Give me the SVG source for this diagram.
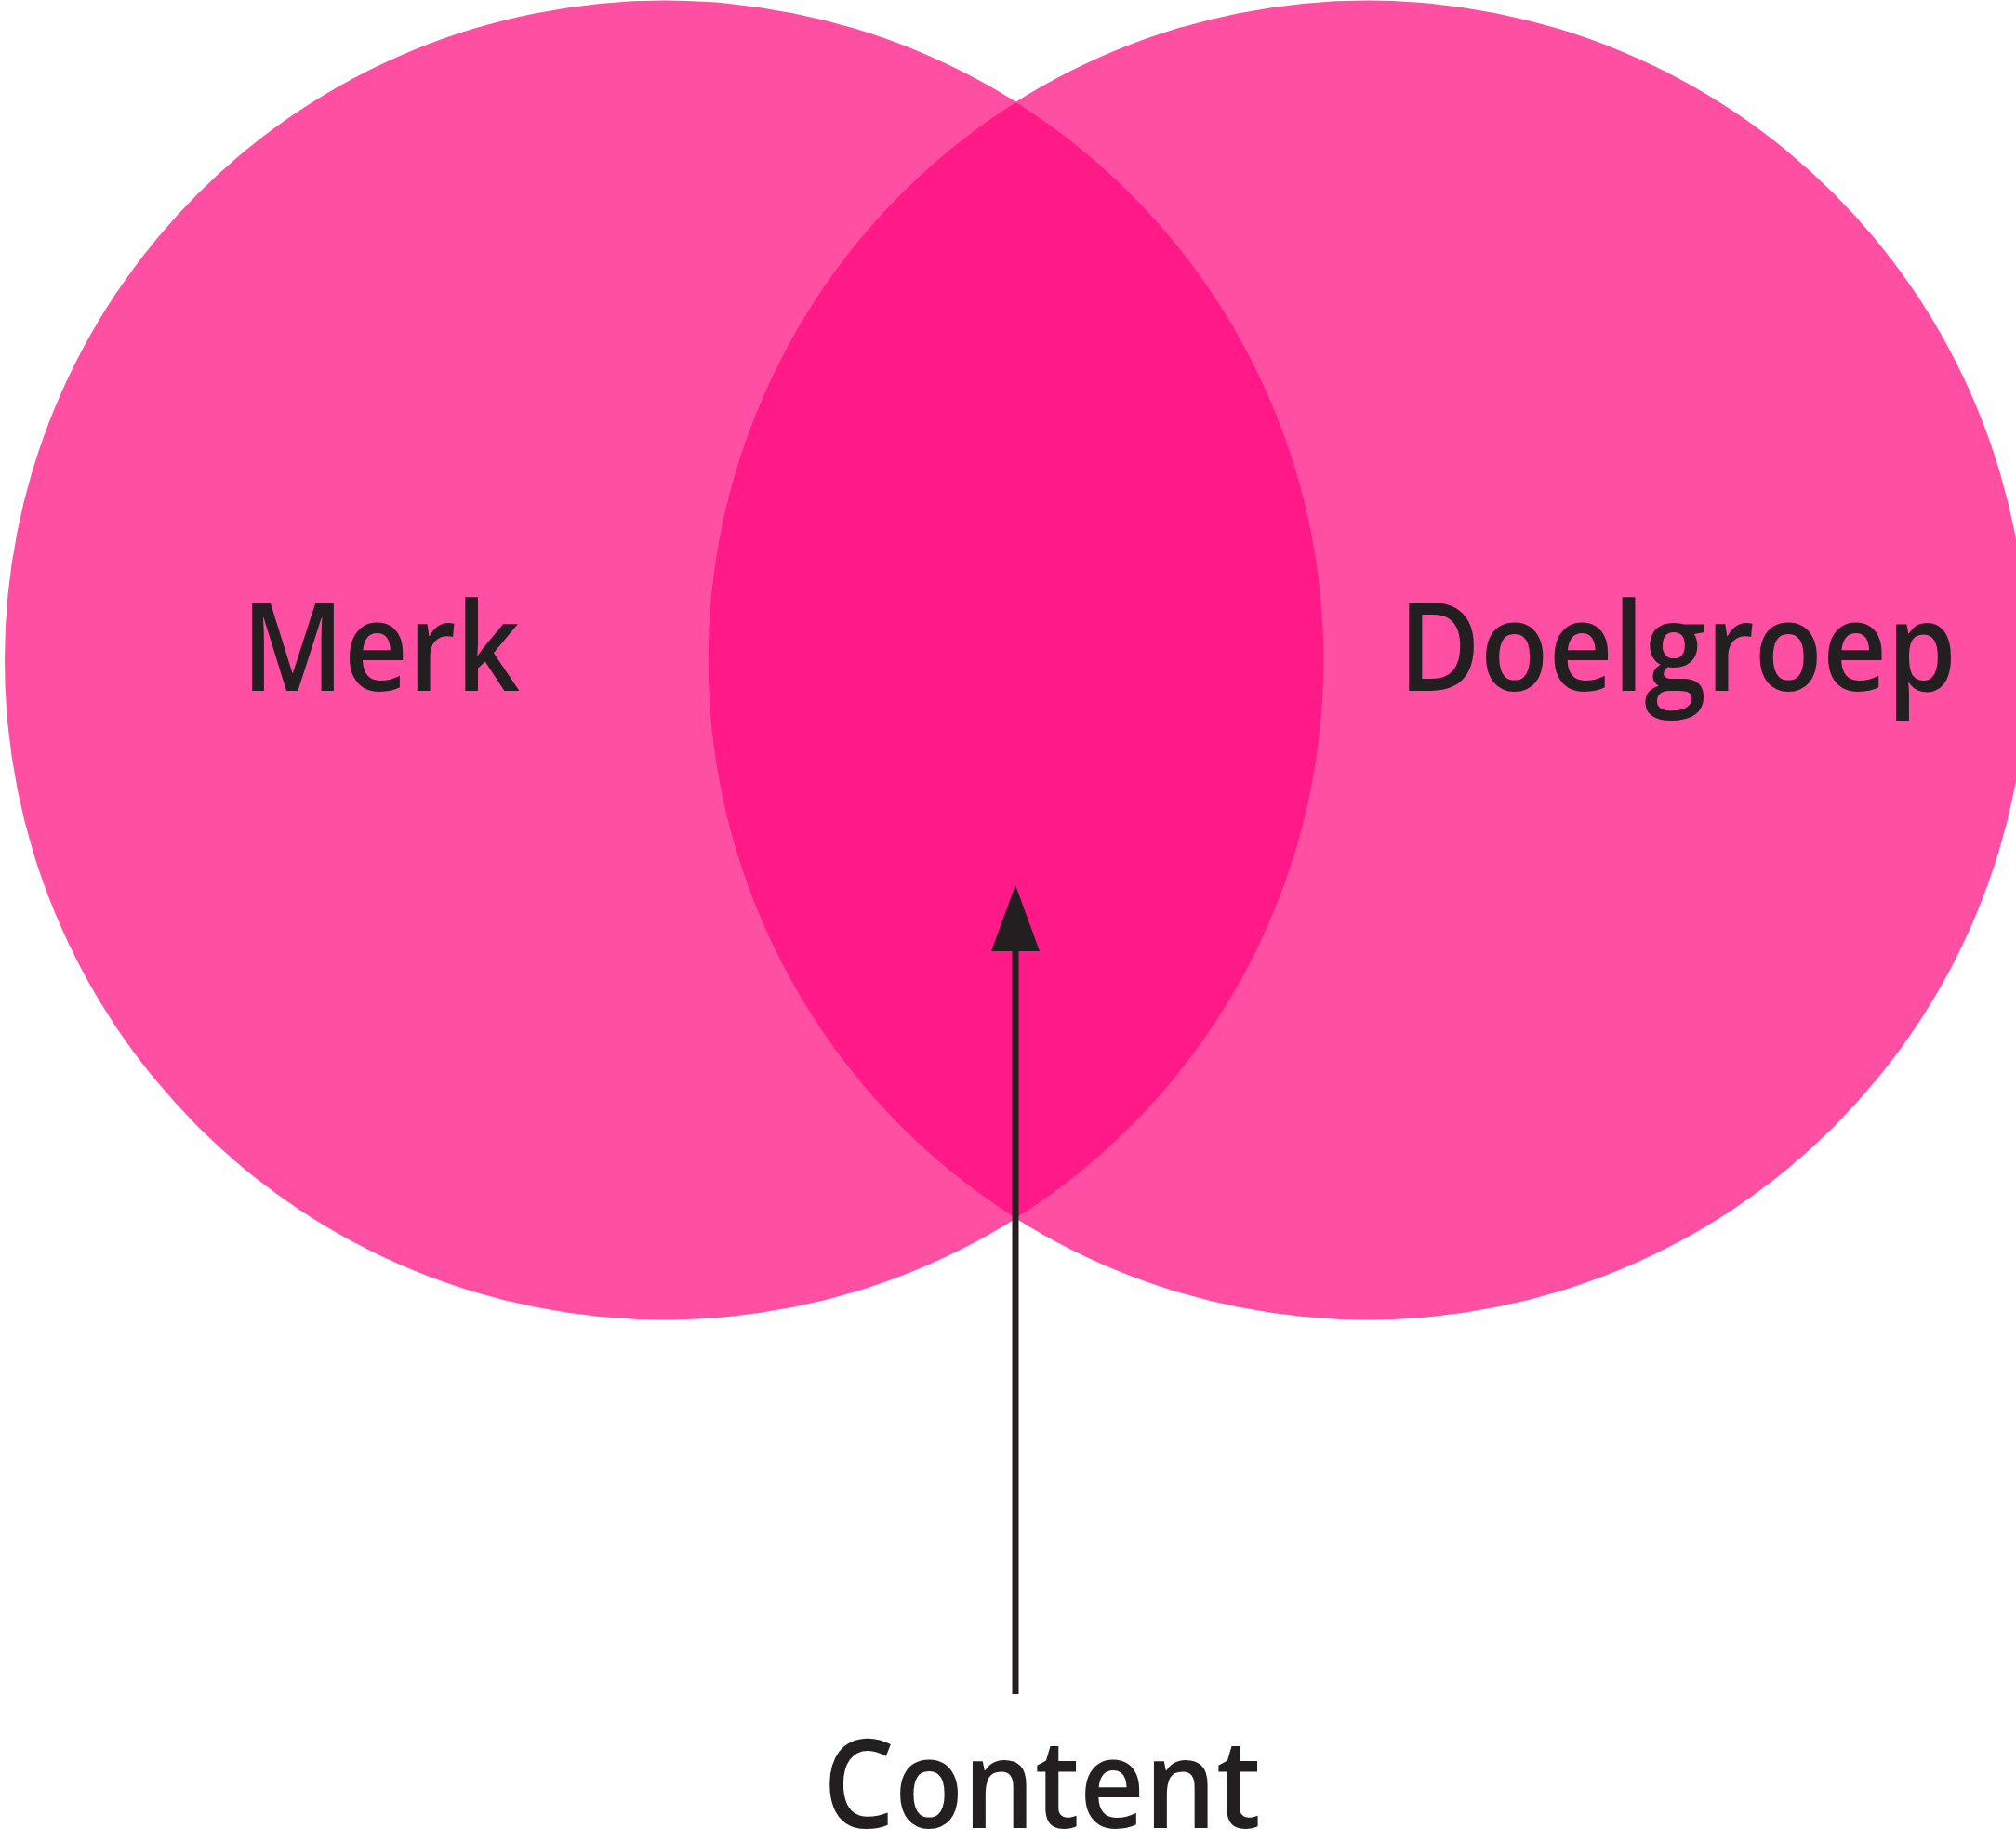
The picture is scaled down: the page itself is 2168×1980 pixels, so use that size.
<svg xmlns="http://www.w3.org/2000/svg" width="2168" height="1980" viewBox="0 0 2168 1980">
<defs>
<style>
.circle{fill:#FF4FA2;}
.lens{fill:#FF1A88;}
.label{font-family:"Open Sans","Liberation Sans",sans-serif;font-weight:600;font-size:132px;fill:#231F20;}
.conn{stroke:#231F20;stroke-width:7;fill:none;}
</style>
</defs>
<rect width="2168" height="1980" fill="#FFFFFF"/>
<g id="merk">
<circle class="circle" cx="714.5" cy="710" r="709.5"/>
</g>
<g id="doelgroep">
<circle class="circle" cx="1470.5" cy="710" r="709.5"/>
</g>
<g id="content-overlap">
<path class="lens" d="M1092.5,110 A709.5,709.5 0 0 1 1092.5,1310 A709.5,709.5 0 0 1 1092.5,110 Z"/>
</g>
<g id="labels">
<text class="label" x="260" y="743" textLength="299" lengthAdjust="spacingAndGlyphs">Merk</text>
<text class="label" x="1504" y="743" textLength="600" lengthAdjust="spacingAndGlyphs">Doelgroep</text>
<text id="content" class="label" x="885" y="1966" textLength="471" lengthAdjust="spacingAndGlyphs">Content</text>
</g>
<g id="connectors">
<line class="conn" x1="1092" y1="1822" x2="1092" y2="1023"/>
<path d="M1092,952 L1118,1023 L1066,1023 Z" fill="#231F20"/>
</g>
</svg>
